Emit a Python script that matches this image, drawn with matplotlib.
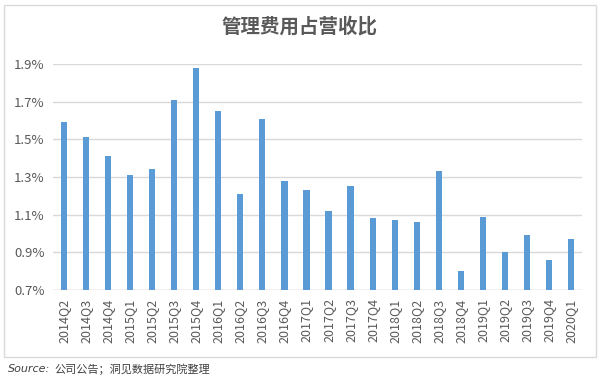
import matplotlib.pyplot as plt
from matplotlib.patches import Rectangle
import numpy as np

plt.rcParams['font.family'] = ['Noto Sans CJK SC', 'DejaVu Sans']

quarters = [
    "2014Q2", "2014Q3", "2014Q4", "2015Q1", "2015Q2", "2015Q3", "2015Q4",
    "2016Q1", "2016Q2", "2016Q3", "2016Q4", "2017Q1", "2017Q2", "2017Q3",
    "2017Q4", "2018Q1", "2018Q2", "2018Q3", "2018Q4", "2019Q1", "2019Q2",
    "2019Q3", "2019Q4", "2020Q1",
]
ratio = [
    1.59, 1.51, 1.41, 1.31, 1.34, 1.71, 1.88,
    1.65, 1.21, 1.61, 1.28, 1.23, 1.12, 1.25,
    1.08, 1.07, 1.06, 1.33, 0.80, 1.09, 0.90,
    0.99, 0.86, 0.97,
]
yticks = [0.7, 0.9, 1.1, 1.3, 1.5, 1.7, 1.9]

fig = plt.figure(figsize=(6, 3.83), dpi=100)
ax = fig.add_axes([53 / 600, 1 - 290 / 383, 529 / 600, 226 / 383])

x = np.arange(len(quarters))
ax.bar(x, ratio, width=0.28, color="#5B9BD5", zorder=3)

ax.set_xlim(-0.5, len(quarters) - 0.5)
ax.set_ylim(0.7, 1.9)
ax.set_yticks(yticks)
ax.set_yticklabels([f"{v:.1f}%" for v in yticks], fontsize=9.5, color="#595959")
ax.set_xticks(x)
ax.set_xticklabels(quarters, rotation=90, fontsize=9, color="#595959")
ax.tick_params(length=0, pad=6)
ax.grid(axis="y", color="#D9D9D9", linewidth=1, zorder=0)
for s in ax.spines.values():
    s.set_visible(False)
ax.axhline(0.7, color="#D9D9D9", linewidth=1, zorder=1)

fig.text(0.5, 1 - 27 / 383, "管理费用占营收比", ha="center", va="center",
         fontsize=14, fontweight="bold", color="#595959")

# chart panel border
fig.patches.append(Rectangle((4 / 600, 1 - 357 / 383), 592 / 600, 352 / 383,
                             transform=fig.transFigure, fill=False,
                             edgecolor="#D9D9D9", linewidth=1))

fig.text(8 / 600, 1 - 369 / 383, "Source:", ha="left", va="center",
         fontsize=8, style="italic", family="DejaVu Sans", color="#404040")
fig.text(54 / 600, 1 - 369 / 383, "公司公告；洞见数据研究院整理",
         ha="left", va="center", fontsize=8, color="#404040")

fig.savefig("out.png", dpi=100)
